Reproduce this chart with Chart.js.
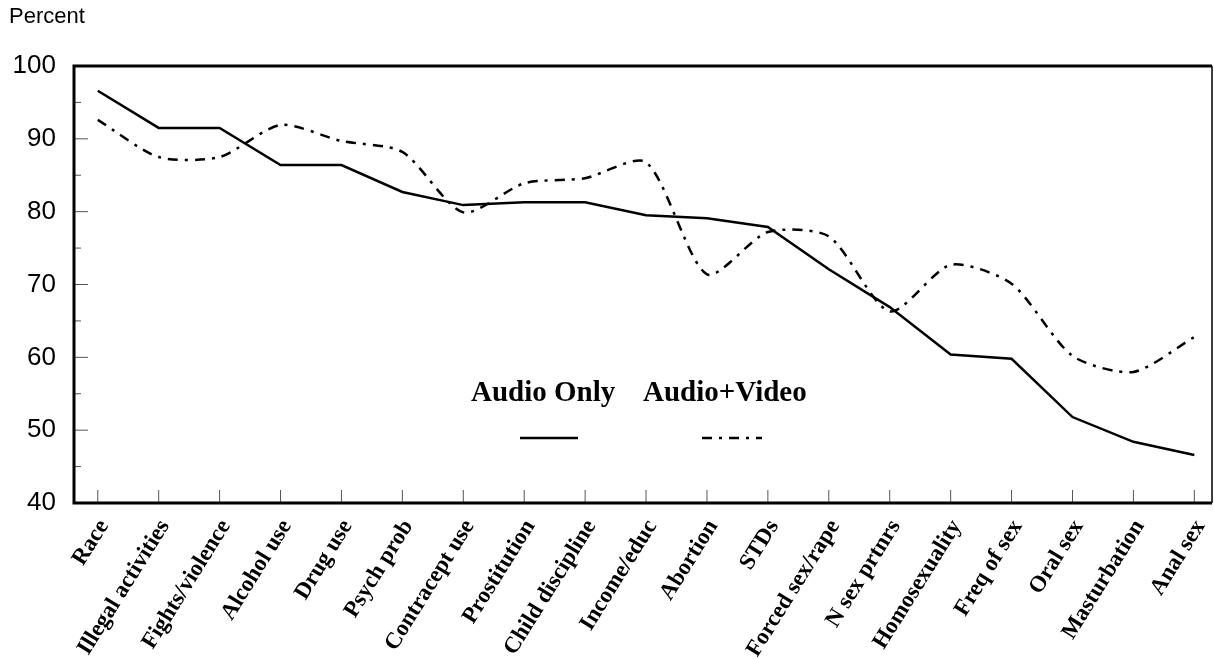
<!DOCTYPE html>
<html>
<head>
<meta charset="utf-8">
<script src="https://cdn.jsdelivr.net/npm/chart.js@4.4.1/dist/chart.umd.min.js"></script>
<style>
  html, body { margin: 0; padding: 0; background: #fff; }
  #wrap { width: 1214px; height: 659px; position: relative; }
</style>
</head>
<body>
<div id="wrap"><canvas id="myChart"></canvas></div>
<script>
const topics = ["Race", "Illegal activities", "Fights/violence", "Alcohol use", "Drug use",
    "Psych prob", "Contracept use", "Prostitution", "Child discipline", "Income/educ",
    "Abortion", "STDs", "Forced sex/rape", "N sex prtnrs", "Homosexuality",
    "Freq of sex", "Oral sex", "Masturbation", "Anal sex"];
const audioOnly = [96.6, 91.5, 91.5, 86.4, 86.4, 82.7, 80.9, 81.3, 81.3, 79.5,
    79.1, 77.9, 72.1, 66.9, 60.4, 59.8, 51.8, 48.4, 46.6];
const audioVideo = [92.6, 87.5, 87.5, 91.9, 89.7, 88.2, 79.9, 83.9, 84.6, 86.8,
    71.4, 77.2, 76.6, 66.3, 72.7, 70.1, 60.2, 58.0, 62.8];
const yTicks = [40, 50, 60, 70, 80, 90, 100];
const seriesNames = ["Audio Only", "Audio+Video"];

const dashDot = [10, 7, 3, 7];

// frame, inward tick marks, legend and the "Percent" caption
const decorations = {
    id: "decorations",
    afterDatasetsDraw(chart) {
        const ctx = chart.ctx;
        const a = chart.chartArea;
        const xs = chart.scales.x;
        const ys = chart.scales.y;
        ctx.save();

        ctx.strokeStyle = "#555";
        ctx.lineWidth = 1;
        for (let v = 40; v <= 100; v += 5) {
            let py = ys.getPixelForValue(v);
            let len = v % 10 === 0 ? 14 : 7;
            ctx.beginPath();
            ctx.moveTo(a.left, py);
            ctx.lineTo(a.left + len, py);
            ctx.stroke();
        }
        topics.forEach((t, i) => {
            let px = xs.getPixelForValue(i);
            ctx.beginPath();
            ctx.moveTo(px, a.bottom);
            ctx.lineTo(px, a.bottom - 13);
            ctx.stroke();
        });

        ctx.strokeStyle = "#000";
        ctx.lineWidth = 3;
        ctx.beginPath();
        ctx.moveTo(a.right, a.top);
        ctx.lineTo(a.left, a.top);
        ctx.lineTo(a.left, a.bottom);
        ctx.lineTo(a.right, a.bottom);
        ctx.stroke();
        ctx.lineWidth = 1.5;
        ctx.beginPath();
        ctx.moveTo(a.right, a.top);
        ctx.lineTo(a.right, a.bottom);
        ctx.stroke();

        // legend
        ctx.fillStyle = "#000";
        ctx.font = "bold 29px 'Liberation Serif', 'Times New Roman', serif";
        ctx.textBaseline = "alphabetic";
        ctx.textAlign = "left";
        ctx.fillText(seriesNames[0], 471, 401);
        ctx.fillText(seriesNames[1], 643, 401);
        ctx.lineWidth = 2.5;
        ctx.beginPath();
        ctx.moveTo(520, 438);
        ctx.lineTo(578, 438);
        ctx.stroke();
        ctx.setLineDash(dashDot);
        ctx.beginPath();
        ctx.moveTo(702, 438);
        ctx.lineTo(762, 438);
        ctx.stroke();
        ctx.setLineDash([]);

        ctx.font = "22px 'Liberation Sans', Arial, sans-serif";
        ctx.textBaseline = "middle";
        ctx.fillText("Percent", 9, 17);
        ctx.restore();
    }
};

const chartData = {
    datasets: [
        {
            label: seriesNames[0],
            data: audioOnly.map((v, i) => ({ x: i, y: v })),
            borderColor: "#000",
            borderWidth: 2.5,
            pointRadius: 0,
            tension: 0,
            fill: false,
        },
        {
            label: seriesNames[1],
            data: audioVideo.map((v, i) => ({ x: i, y: v })),
            borderColor: "#000",
            borderWidth: 2.5,
            borderDash: dashDot,
            pointRadius: 0,
            tension: 0.25,
            fill: false,
        },
    ],
};

const config = {
    type: "line",
    data: chartData,
    options: {
        responsive: false,
        animation: false,
        layout: { padding: { top: 66, right: 2, left: 0, bottom: 0 } },
        plugins: {
            legend: { display: false },
            tooltip: { enabled: false },
        },
        scales: {
            x: {
                type: "linear",
                min: -0.39,
                max: 18.29,
                afterFit: (scale) => {
                    scale.height = 156;
                    scale.paddingLeft = 0;
                    scale.paddingRight = 0;
                },
                afterBuildTicks: (scale) => {
                    scale.ticks = topics.map((t, i) => ({ value: i }));
                },
                grid: { display: false, drawTicks: false },
                border: { display: false },
                ticks: {
                    autoSkip: false,
                    minRotation: 58,
                    maxRotation: 58,
                    padding: 12,
                    labelOffset: 6,
                    color: "#000",
                    font: { family: "'Liberation Serif', 'Times New Roman', serif", size: 23, weight: "bold" },
                    callback: (v) => topics[v],
                },
            },
            y: {
                min: 40,
                max: 100,
                afterFit: (scale) => { scale.width = 74; },
                afterBuildTicks: (scale) => {
                    scale.ticks = yTicks.map((v) => ({ value: v }));
                },
                grid: { display: false, drawTicks: false },
                border: { display: false },
                ticks: {
                    padding: 18,
                    color: "#000",
                    font: { family: "'Liberation Sans', Arial, sans-serif", size: 26 },
                },
            },
        },
    },
    plugins: [decorations],
};

const canvas = document.getElementById("myChart");
canvas.width = 1214;
canvas.height = 659;
new Chart(canvas, config);
</script>
</body>
</html>
